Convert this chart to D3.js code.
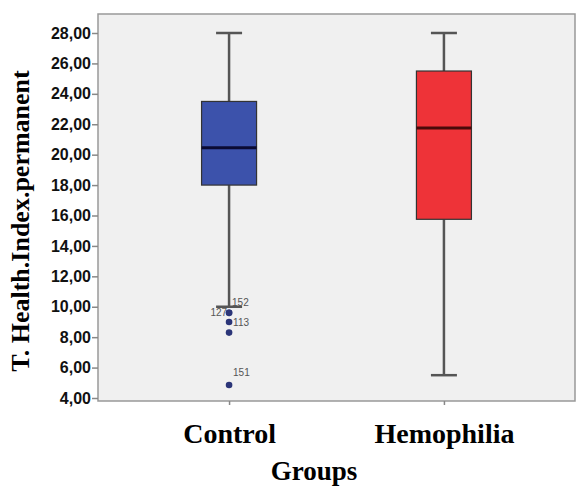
<!DOCTYPE html>
<html>
<head>
<meta charset="utf-8">
<script src="https://cdn.jsdelivr.net/npm/d3@7"></script>
<style>
  body { margin: 0; background: #fff; }
  .y-axis text { font-family: "Liberation Sans", Arial, sans-serif; font-weight: bold; font-size: 16px; fill: #111; }
  .x-axis text { font-family: "Liberation Serif", "Times New Roman", serif; font-weight: bold; font-size: 28px; fill: #000; }
  .axis path { display: none; }
  .axis line { stroke: #888; stroke-width: 1.5px; }
</style>
</head>
<body>
<script>
// groups on the x axis
let groups = ["Control", "Hemophilia"];

// box statistics per group
let lowWhisker = [10.0, 5.5],
	q1 = [18.0, 15.75],
	median = [20.45, 21.75],
	q3 = [23.5, 25.5],
	highWhisker = [28.0, 28.0];

// outliers (all in Control)
let outlierGroup = ["Control", "Control", "Control", "Control", "Control"],
	outlierValue = [9.6, 9.6, 9.0, 8.3, 4.85],
	outlierId = ["152", "127", "113", "", "151"];

let yTicks = [4, 6, 8, 10, 12, 14, 16, 18, 20, 22, 24, 26, 28];

let boxFill = ["#3c52ab", "#ee3338"],
	medianColor = ["#0b0b33", "#4a0a0a"];

// canvas
let width = 576, height = 490;
let plot = {left: 98, top: 14, right: 575, bottom: 401};

let svg = d3.select("body").append("svg")
	.attr("width", width)
	.attr("height", height);

// scales
let xScale = d3.scalePoint().domain(groups).range([plot.left, plot.right]).padding(0.61);
let yScale = d3.scaleLinear().domain([4, 28]).range([398, 33]);

// plot background
svg.append("rect")
	.attr("x", plot.left)
	.attr("y", plot.top)
	.attr("width", plot.right - plot.left)
	.attr("height", plot.bottom - plot.top)
	.style("fill", "#f0f0f0")
	.style("stroke", "#999")
	.style("stroke-width", 1.5);

// axes
let fmt = function(d) { return d3.format(".2f")(d).replace(".", ","); };

svg.append("g")
	.attr("class", "axis y-axis")
	.attr("transform", "translate(" + plot.left + ",0)")
	.call(d3.axisLeft(yScale).tickValues(yTicks).tickFormat(fmt).tickSize(6).tickPadding(1));

let xAxisEl = svg.append("g")
	.attr("class", "axis x-axis")
	.attr("transform", "translate(0," + plot.bottom + ")")
	.call(d3.axisBottom(xScale).tickSize(4).tickPadding(18));
xAxisEl.selectAll("text").attr("dy", "0.71em");

// boxes
let boxW = 55, capW = 26;
let stats = groups.map(function(g, i) {
	return {g: g, lo: lowWhisker[i], q1: q1[i], med: median[i], q3: q3[i], hi: highWhisker[i], fill: boxFill[i], mc: medianColor[i]};
});

let box = svg.selectAll(".box").data(stats).enter().append("g").attr("class", "box");

// whiskers
box.append("line")
	.attr("x1", d => xScale(d.g)).attr("x2", d => xScale(d.g))
	.attr("y1", d => yScale(d.hi)).attr("y2", d => yScale(d.q3))
	.style("stroke", "#555").style("stroke-width", 2.5);
box.append("line")
	.attr("x1", d => xScale(d.g)).attr("x2", d => xScale(d.g))
	.attr("y1", d => yScale(d.q1)).attr("y2", d => yScale(d.lo))
	.style("stroke", "#555").style("stroke-width", 2.5);
// caps
box.append("line")
	.attr("x1", d => xScale(d.g) - capW / 2).attr("x2", d => xScale(d.g) + capW / 2)
	.attr("y1", d => yScale(d.hi)).attr("y2", d => yScale(d.hi))
	.style("stroke", "#555").style("stroke-width", 2.5);
box.append("line")
	.attr("x1", d => xScale(d.g) - capW / 2).attr("x2", d => xScale(d.g) + capW / 2)
	.attr("y1", d => yScale(d.lo)).attr("y2", d => yScale(d.lo))
	.style("stroke", "#555").style("stroke-width", 2.5);

// the box itself
box.append("rect")
	.attr("x", d => xScale(d.g) - boxW / 2)
	.attr("y", d => yScale(d.q3))
	.attr("width", boxW)
	.attr("height", d => yScale(d.q1) - yScale(d.q3))
	.style("fill", d => d.fill)
	.style("stroke", "#333")
	.style("stroke-width", 1.2);

// median
box.append("line")
	.attr("x1", d => xScale(d.g) - boxW / 2).attr("x2", d => xScale(d.g) + boxW / 2)
	.attr("y1", d => yScale(d.med)).attr("y2", d => yScale(d.med))
	.style("stroke", d => d.mc).style("stroke-width", 3);

// outliers
let outliers = outlierValue.map(function(v, i) {
	return {g: outlierGroup[i], v: v, id: outlierId[i]};
});
// label placement: side of the dot and vertical shift
let labelDx = [3, -2, 4, 0, 4],
	labelDy = [-7, 3, 4, 0, -9];

svg.selectAll(".outlier").data(outliers).enter().append("circle")
	.attr("class", "outlier")
	.attr("cx", d => xScale(d.g))
	.attr("cy", d => yScale(d.v))
	.attr("r", 3.3)
	.style("fill", "#2b3578");

svg.selectAll(".olabel").data(outliers).enter().append("text")
	.attr("class", "olabel")
	.attr("x", (d, i) => xScale(d.g) + labelDx[i])
	.attr("y", (d, i) => yScale(d.v) + labelDy[i])
	.attr("text-anchor", (d, i) => labelDx[i] < 0 ? "end" : "start")
	.style("font-family", "'Liberation Sans', Arial, sans-serif")
	.style("font-size", "10px")
	.style("fill", "#555")
	.text(d => d.id);

// axis titles
svg.append("text")
	.attr("x", 314)
	.attr("y", 480)
	.attr("text-anchor", "middle")
	.style("font-family", "'Liberation Serif', 'Times New Roman', serif")
	.style("font-weight", "bold")
	.style("font-size", "27px")
	.text("Groups");

svg.append("text")
	.attr("transform", "translate(29,221) rotate(-90)")
	.attr("text-anchor", "middle")
	.style("font-family", "'Liberation Serif', 'Times New Roman', serif")
	.style("font-weight", "bold")
	.style("font-size", "26px")
	.text("T. Health.Index.permanent");
</script>
</body>
</html>
